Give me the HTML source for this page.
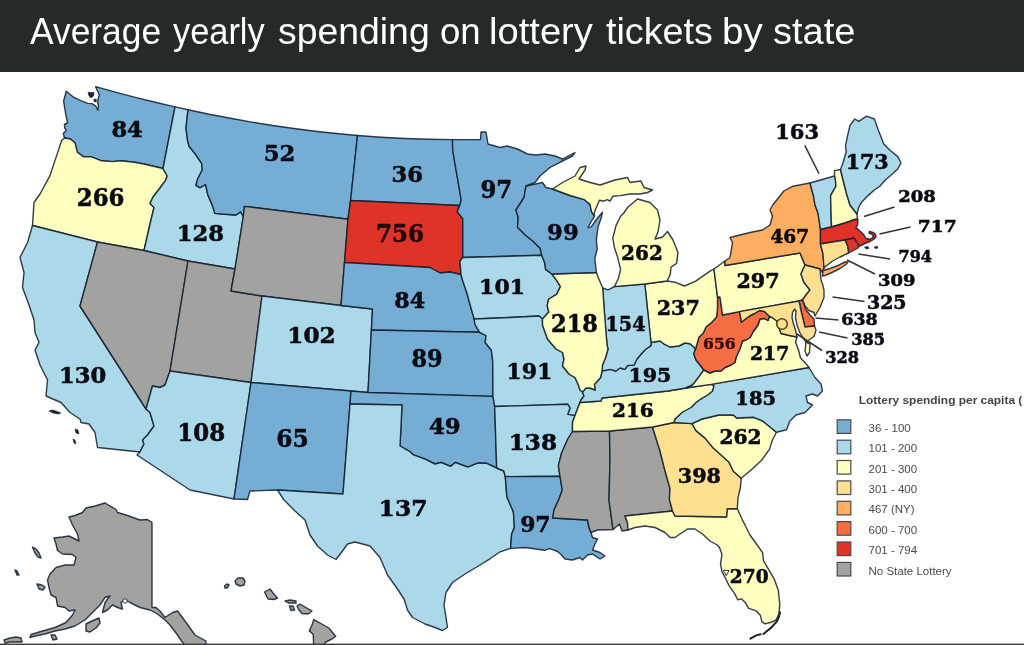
<!DOCTYPE html>
<html lang="en"><head><meta charset="utf-8"><title>Average yearly spending on lottery tickets by state</title>
<style>
html,body{margin:0;padding:0;background:#fff;}
body{width:1024px;height:645px;overflow:hidden;position:relative;font-family:"Liberation Sans",Arial,sans-serif;}
#hdr{position:absolute;left:0;top:0;width:1024px;height:72.4px;background:#24292a;}
#hdr h1{margin:0;position:absolute;left:0;top:11px;width:1024px;height:42px;font-size:37px;line-height:42px;font-weight:normal;color:#fff;white-space:nowrap;}
#hdr h1 span{position:absolute;top:0;display:inline-block;transform-origin:0 50%;}
#map{position:absolute;left:0;top:72px;width:1024px;height:573px;}
#map svg{display:block;}
</style></head><body>
<div id="hdr"><h1><span style="left:30.0px;transform:scaleX(0.956)">Average</span> <span style="left:173.2px;transform:scaleX(0.929)">yearly</span> <span style="left:278.4px;transform:scaleX(1.010)">spending</span> <span style="left:440.2px;transform:scaleX(0.987)">on</span> <span style="left:488.5px;transform:scaleX(1.031)">lottery</span> <span style="left:605.6px;transform:scaleX(1.019)">tickets</span> <span style="left:722.4px;transform:scaleX(1.042)">by</span> <span style="left:772.6px;transform:scaleX(1.026)">state</span></h1></div>
<div id="map">
<svg width="1024" height="573" viewBox="0 72 1024 573" role="img" aria-label="US map of lottery spending per capita by state">
<g stroke="#111d2b" stroke-width="1.4" stroke-opacity="0.86" stroke-linejoin="round">
<path id="WA" fill="#75add5" d="M66.3,91.3 73.0,96.8 80.8,100.7 87.8,103.4 92.0,103.6 95.6,105.8 98.0,110.5 98.4,105.8 97.6,101.9 98.4,98.0 99.5,94.8 97.6,91.0 95.6,86.6 115.4,92.1 135.3,97.4 155.2,102.3 175.0,106.9 163.0,168.5 143.8,164.0 134.4,162.3 120.3,160.8 112.5,161.6 101.6,160.8 91.4,156.9 83.6,156.9 77.3,152.2 75.0,142.8 70.3,139.0 64.5,138.0 63.3,133.4 66.4,130.3 64.8,128.4 64.4,124.5 67.5,123.0 65.5,112.8 63.6,101.0Z"/>
<path id="OR" fill="#ffffbf" d="M64.5,138.0 70.3,139.0 75.0,142.8 77.3,152.2 83.6,156.9 91.4,156.9 101.6,160.8 112.5,161.6 120.3,160.8 134.4,162.3 143.8,164.0 163.0,168.5 167.2,176.0 165.6,180.3 160.0,188.0 153.0,197.0 150.0,203.5 154.0,207.5 150.5,222.0 144.0,250.5 97.5,242.0 32.5,225.5 34.0,202.5 40.0,194.0 50.0,175.6 56.2,156.9 61.7,140.5Z"/>
<path id="ID" fill="#abd9e9" d="M175.0,106.9 188.0,109.8 186.0,128.0 187.5,140.0 189.0,146.2 195.3,154.0 201.6,163.4 202.3,169.7 197.7,179.0 196.0,185.3 200.0,187.7 205.5,184.5 207.8,194.7 212.5,205.6 214.8,213.4 225.0,214.2 236.0,215.0 240.6,211.9 243.3,216.5 235.0,269.0 188.0,261.0 144.0,250.5 150.5,222.0 154.0,207.5 150.0,203.5 153.0,197.0 160.0,188.0 165.6,180.3 167.2,176.0 163.0,168.5Z"/>
<path id="MT" fill="#75add5" d="M188.0,109.8 209.2,114.3 230.4,118.3 251.6,122.1 272.8,125.5 293.9,128.5 315.1,131.2 336.3,133.5 357.5,135.5 350.6,200.5 348.0,219.2 244.5,206.4 243.3,216.5 240.6,211.9 236.0,215.0 225.0,214.2 214.8,213.4 212.5,205.6 207.8,194.7 205.5,184.5 200.0,187.7 196.0,185.3 197.7,179.0 202.3,169.7 201.6,163.4 195.3,154.0 189.0,146.2 187.5,140.0 186.0,128.0Z"/>
<path id="CA" fill="#abd9e9" d="M32.5,225.5 97.5,242.0 80.0,306.0 146.0,409.0 150.0,412.5 154.0,426.0 147.5,435.0 142.5,440.0 144.0,444.0 140.0,452.0 97.5,447.5 95.0,432.5 89.0,424.0 81.0,422.5 80.0,419.0 70.0,412.5 61.0,402.5 46.0,396.0 47.5,380.0 40.0,365.0 35.0,350.0 39.0,342.5 35.0,332.5 34.0,320.0 29.0,305.0 22.5,287.5 24.0,272.5 20.0,257.5 27.5,242.5Z"/>
<path id="NV" fill="#a2a2a1" d="M97.5,242.0 144.0,250.5 188.0,261.0 170.0,371.0 165.0,385.0 160.0,387.5 152.5,386.0 146.0,409.0 80.0,306.0Z"/>
<path id="UT" fill="#a2a2a1" d="M188.0,261.0 235.0,269.0 231.0,291.0 262.0,296.0 251.0,382.5 170.0,371.0Z"/>
<path id="WY" fill="#a2a2a1" d="M243.3,216.5 244.5,206.4 348.0,219.2 344.5,262.5 341.0,305.5 262.0,296.0 231.0,291.0 235.0,269.0Z"/>
<path id="AZ" fill="#abd9e9" d="M170.0,371.0 251.0,382.5 234.0,499.0 190.0,490.0 137.0,455.0 140.0,452.0 144.0,444.0 142.5,440.0 147.5,435.0 154.0,426.0 150.0,412.5 146.0,409.0 152.5,386.0 160.0,387.5 165.0,385.0Z"/>
<path id="CO" fill="#abd9e9" d="M262.0,296.0 341.0,305.5 372.5,309.0 371.4,330.0 368.0,392.5 351.0,391.0 251.0,382.5Z"/>
<path id="NM" fill="#75add5" d="M251.0,382.5 351.0,391.0 350.0,404.0 343.0,494.0 277.5,490.0 250.0,491.0 247.5,499.5 234.0,499.0Z"/>
<path id="ND" fill="#75add5" d="M357.5,135.5 381.2,137.2 405.0,138.5 428.8,139.3 452.5,139.6 452.7,150.0 455.0,164.0 458.0,181.0 461.2,200.0 459.7,205.5 350.6,200.5Z"/>
<path id="SD" fill="#e03328" d="M350.6,200.5 459.7,205.5 457.3,211.7 462.8,218.8 462.8,257.5 460.0,261.0 461.0,274.5 450.0,272.0 440.0,273.0 430.0,267.5 344.5,262.5 348.0,219.2Z"/>
<path id="NE" fill="#75add5" d="M344.5,262.5 430.0,267.5 440.0,273.0 450.0,272.0 461.0,274.5 462.5,280.0 467.2,294.0 471.0,308.0 474.2,319.0 475.0,324.5 479.7,332.3 371.4,330.0 372.5,309.0 341.0,305.5Z"/>
<path id="KS" fill="#75add5" d="M371.4,330.0 479.7,332.3 486.0,335.5 485.2,342.5 491.4,350.3 492.7,361.2 493.0,396.4 368.0,392.5Z"/>
<path id="OK" fill="#75add5" d="M351.0,391.0 368.0,392.5 493.0,396.4 494.7,406.5 496.7,468.0 486.6,463.3 477.2,463.3 467.8,467.2 455.3,462.5 450.6,466.4 441.2,462.5 435.0,464.0 425.6,459.4 413.0,454.7 410.0,451.6 400.0,446.0 402.0,405.0 350.0,404.0Z"/>
<path id="TX" fill="#abd9e9" d="M350.0,404.0 402.0,405.0 400.0,446.0 410.0,451.6 413.0,454.7 425.6,459.4 435.0,464.0 441.2,462.5 450.6,466.4 455.3,462.5 467.8,467.2 477.2,463.3 486.6,463.3 496.7,468.0 503.8,471.0 505.3,476.6 506.9,496.9 513.4,511.9 514.4,526.9 511.6,534.4 510.6,548.4 499.4,552.2 490.0,558.8 480.0,565.0 465.0,574.0 452.5,582.5 446.0,592.5 444.0,605.0 446.0,617.5 447.5,627.5 442.5,630.5 435.0,627.5 425.0,624.0 412.5,617.5 407.5,610.0 404.0,599.0 397.5,589.0 387.5,575.0 380.0,557.5 370.0,546.0 355.0,542.0 347.5,544.0 342.5,551.0 336.0,559.5 327.5,555.0 317.5,546.0 310.0,535.0 305.0,520.0 295.0,511.0 284.0,500.0 277.5,490.0 343.0,494.0Z"/>
<path id="MN" fill="#75add5" d="M452.5,139.6 480.5,139.5 481.0,132.0 486.0,132.0 488.0,144.0 500.0,147.5 507.5,146.0 517.5,149.0 527.5,154.0 536.0,155.0 545.0,154.0 555.0,156.0 562.5,159.0 575.0,152.5 572.5,156.0 562.5,161.0 550.0,167.5 540.0,176.0 535.0,182.5 526.0,186.0 524.0,197.5 516.0,210.0 518.3,217.8 517.5,227.2 525.3,235.0 533.0,241.2 540.2,248.3 541.7,255.3 462.8,257.5 462.8,218.8 457.3,211.7 459.7,205.5 461.2,200.0 458.0,181.0 455.0,164.0 452.7,150.0Z"/>
<path id="IA" fill="#abd9e9" d="M462.8,257.5 541.7,255.3 544.8,263.0 545.6,269.4 551.9,274.0 556.6,280.3 560.5,286.6 556.6,294.4 548.8,299.0 547.2,305.3 548.8,312.0 542.5,319.0 539.0,316.0 510.0,317.5 474.2,319.0 471.0,308.0 467.2,294.0 462.5,280.0 461.0,274.5 460.0,261.0Z"/>
<path id="MO" fill="#abd9e9" d="M474.2,319.0 510.0,317.5 539.0,316.0 542.5,319.0 542.5,325.0 547.5,339.0 556.0,349.0 562.5,352.5 564.0,359.0 562.5,366.0 569.0,374.0 575.0,377.5 578.0,384.0 580.0,390.0 582.5,392.0 584.0,396.0 581.0,400.0 580.0,402.5 577.5,409.0 575.0,415.6 567.7,414.4 570.0,408.0 567.7,404.2 494.7,406.5 493.0,396.4 492.7,361.2 491.4,350.3 485.2,342.5 486.0,335.5 479.7,332.3 475.0,324.5Z"/>
<path id="AR" fill="#abd9e9" d="M494.7,406.5 567.7,404.2 570.0,408.0 567.7,414.4 575.0,415.6 572.5,422.5 572.5,431.5 567.8,439.0 561.6,453.0 558.4,465.6 560.0,476.3 505.3,476.6 503.8,471.0 496.7,468.0Z"/>
<path id="LA" fill="#75add5" d="M505.3,476.6 560.0,476.3 562.3,490.0 559.0,499.0 554.0,510.0 552.8,518.0 587.5,520.0 589.0,527.5 591.0,532.5 592.5,537.5 597.5,539.0 595.0,544.0 592.5,550.0 600.0,552.5 605.0,556.0 600.0,559.0 592.5,554.0 587.5,555.0 582.5,560.0 580.0,557.5 572.5,560.0 565.0,559.0 561.0,554.5 557.5,551.5 550.0,548.6 544.4,550.3 525.6,547.5 510.6,548.4 511.6,534.4 514.4,526.9 513.4,511.9 506.9,496.9Z"/>
<path id="MS" fill="#a2a2a1" d="M572.5,431.5 609.5,431.0 610.0,460.0 609.0,500.0 613.0,529.5 597.5,530.0 591.0,532.5 589.0,527.5 587.5,520.0 552.8,518.0 554.0,510.0 559.0,499.0 562.3,490.0 560.0,476.3 558.4,465.6 561.6,453.0 567.8,439.0Z"/>
<path id="AL" fill="#a2a2a1" d="M609.5,431.0 652.5,427.0 660.0,451.0 664.7,469.7 670.0,488.4 669.4,499.4 672.5,511.0 625.0,516.0 627.5,522.5 628.0,530.0 622.0,531.0 619.5,524.0 613.0,529.5 609.0,500.0 610.0,460.0Z"/>
<path id="FL" fill="#ffffbf" d="M672.5,511.0 675.0,516.0 726.5,517.0 727.2,508.8 737.3,508.8 742.5,520.0 750.0,535.0 757.2,545.0 762.7,552.8 763.4,560.6 768.0,568.4 774.4,579.4 778.3,590.3 779.8,604.4 779.0,613.8 776.0,620.0 771.2,622.3 765.0,623.9 761.9,621.6 760.3,615.3 755.6,610.6 748.6,608.3 745.5,602.8 741.6,598.9 737.7,599.7 734.5,593.4 729.0,585.6 725.2,577.8 722.0,571.6 720.5,563.8 722.0,554.4 719.7,548.0 717.3,545.0 710.0,541.0 702.5,534.0 695.0,529.0 687.5,529.0 680.0,534.0 675.0,537.5 670.0,537.5 665.0,532.5 655.0,527.5 645.0,526.0 635.0,527.5 628.0,530.0 627.5,522.5 625.0,516.0Z"/>
<path id="GA" fill="#fee090" d="M652.5,427.0 674.0,422.5 692.0,423.6 696.0,430.6 705.3,438.4 713.0,447.8 721.7,455.6 728.8,461.9 733.4,471.2 741.2,478.3 740.5,487.0 738.0,497.8 737.3,508.8 727.2,508.8 726.5,517.0 675.0,516.0 672.5,511.0 669.4,499.4 670.0,488.4 664.7,469.7 660.0,451.0Z"/>
<path id="SC" fill="#ffffbf" d="M692.0,423.6 702.0,419.0 719.0,415.0 733.4,415.0 736.6,418.0 753.8,417.3 763.0,421.2 776.4,432.2 772.5,440.0 769.4,449.4 761.6,460.3 752.2,469.0 741.2,478.3 733.4,471.2 728.8,461.9 721.7,455.6 713.0,447.8 705.3,438.4 696.0,430.6Z"/>
<path id="NC" fill="#abd9e9" d="M711.0,384.4 809.0,367.5 815.0,377.5 821.0,384.0 822.5,391.0 817.5,396.0 812.5,394.0 806.0,396.0 807.5,402.5 812.5,405.0 805.0,412.5 796.0,415.0 789.7,421.2 786.6,429.8 776.4,432.2 763.0,421.2 753.8,417.3 736.6,418.0 733.4,415.0 719.0,415.0 702.0,419.0 692.0,423.6 674.0,422.5 675.0,419.0 682.5,412.0 691.0,407.5 696.0,402.5 701.0,398.8 707.5,395.0 712.5,391.0 713.8,386.0Z"/>
<path id="TN" fill="#ffffbf" d="M580.0,402.5 601.0,401.0 602.0,398.0 668.0,391.0 686.0,388.0 711.0,384.4 713.8,386.0 712.5,391.0 707.5,395.0 701.0,398.8 696.0,402.5 691.0,407.5 682.5,412.0 675.0,419.0 674.0,422.5 652.5,427.0 609.5,431.0 572.5,431.5 572.5,422.5 575.0,415.6 577.5,409.0Z"/>
<path id="KY" fill="#abd9e9" d="M582.5,392.0 586.0,388.0 590.0,388.0 595.0,390.0 594.4,384.4 597.5,381.0 600.6,377.5 602.0,371.0 610.0,369.4 616.0,371.0 620.0,368.0 625.0,369.4 627.5,365.6 634.0,365.0 637.0,359.0 642.5,352.5 646.0,349.0 651.0,345.6 651.0,342.5 660.0,341.0 663.8,343.8 670.0,347.0 678.8,346.0 685.0,343.0 690.0,343.8 695.6,348.8 693.8,353.8 696.0,360.0 700.0,365.0 703.8,370.0 697.5,378.8 692.5,385.0 686.0,388.0 668.0,391.0 602.0,398.0 601.0,401.0 580.0,402.5 581.0,400.0 584.0,396.0Z"/>
<path id="VA" fill="#ffffbf" d="M686.0,388.0 692.5,385.0 697.5,378.8 703.8,370.0 710.0,373.0 715.0,371.0 721.0,371.0 725.0,367.5 731.0,365.0 735.0,362.5 736.0,357.5 740.0,348.8 742.5,341.0 746.0,340.0 750.0,337.5 753.0,332.0 758.0,325.0 760.0,319.0 764.5,318.5 768.0,320.5 769.5,316.5 772.0,317.5 777.0,321.0 779.5,329.0 781.0,333.5 789.5,335.5 797.0,337.0 795.5,342.0 798.5,350.0 800.5,358.0 805.0,362.5 809.0,367.5 711.0,384.4ZM806.0,342.0 810.0,344.0 809.5,352.5 807.0,356.0 805.0,351.0Z"/>
<path id="WV" fill="#f46d43" d="M717.5,297.0 720.0,297.0 722.5,315.0 739.5,311.6 741.5,322.0 749.5,316.0 754.5,313.5 759.5,310.5 764.5,311.5 769.5,316.5 768.0,320.5 764.5,318.5 760.0,319.0 758.0,325.0 753.0,332.0 750.0,337.5 746.0,340.0 742.5,341.0 740.0,348.8 736.0,357.5 735.0,362.5 731.0,365.0 725.0,367.5 721.0,371.0 715.0,371.0 710.0,373.0 703.8,370.0 700.0,365.0 696.0,360.0 693.8,353.8 695.6,348.8 697.0,344.0 699.0,337.0 703.0,333.5 706.0,327.0 712.0,322.0 716.5,317.0 717.5,308.5Z"/>
<path id="OH" fill="#ffffbf" d="M644.8,284.0 667.2,281.0 675.0,282.2 684.4,286.0 695.3,281.4 710.0,271.2 714.0,269.0 717.5,297.0 717.5,308.5 716.5,317.0 712.0,322.0 706.0,327.0 703.0,333.5 699.0,337.0 697.0,344.0 695.6,348.8 690.0,343.8 685.0,343.0 678.8,346.0 670.0,347.0 663.8,343.8 660.0,341.0 651.0,342.5Z"/>
<path id="IN" fill="#abd9e9" d="M602.7,288.0 608.0,289.9 614.4,286.6 644.8,284.0 651.0,342.5 651.0,345.6 646.0,349.0 642.5,352.5 637.0,359.0 634.0,365.0 627.5,365.6 625.0,369.4 620.0,368.0 616.0,371.0 610.0,369.4 602.0,371.0 602.5,365.0 605.6,357.5 608.0,349.0 607.0,345.0 604.2,310.0Z"/>
<path id="IL" fill="#ffffbf" d="M551.9,274.0 596.4,272.5 598.8,278.8 602.7,288.0 604.2,310.0 607.0,345.0 608.0,349.0 605.6,357.5 602.5,365.0 602.0,371.0 600.6,377.5 597.5,381.0 594.4,384.4 595.0,390.0 590.0,388.0 586.0,388.0 582.5,392.0 580.0,390.0 578.0,384.0 575.0,377.5 569.0,374.0 562.5,366.0 564.0,359.0 562.5,352.5 556.0,349.0 547.5,339.0 542.5,325.0 542.5,319.0 548.8,312.0 547.2,305.3 548.8,299.0 556.6,294.4 560.5,286.6 556.6,280.3Z"/>
<path id="WI" fill="#75add5" d="M526.0,186.0 542.5,182.5 546.0,187.5 552.5,189.0 570.0,195.5 584.4,199.7 590.0,204.4 591.6,211.9 593.8,215.0 594.7,215.8 591.0,222.0 588.0,227.5 591.2,226.9 595.0,221.5 598.6,216.8 602.5,212.2 601.2,218.0 598.0,226.9 596.4,239.7 597.2,249.0 594.8,258.4 596.4,272.5 551.9,274.0 545.6,269.4 544.8,263.0 541.7,255.3 540.2,248.3 533.0,241.2 525.3,235.0 517.5,227.2 518.3,217.8 516.0,210.0 524.0,197.5Z"/>
<path id="MI" fill="#ffffbf" d="M552.5,189.0 562.5,182.5 575.0,176.0 580.0,167.5 586.0,166.0 585.0,170.0 579.0,179.0 590.0,182.5 600.0,185.0 615.0,180.0 627.5,177.5 630.0,182.5 641.0,181.0 644.0,187.5 652.5,190.0 647.5,192.5 640.0,194.0 630.0,194.0 620.0,195.6 613.0,196.2 610.0,201.2 607.5,199.7 603.8,201.2 599.4,200.3 595.0,210.6 593.8,215.0 591.6,211.9 590.0,204.4 584.4,199.7 570.0,195.5ZM637.5,199.0 650.0,202.5 657.5,210.0 660.0,220.0 658.0,232.0 655.0,239.0 662.5,237.0 667.5,231.5 673.0,240.0 678.0,252.5 676.6,263.4 671.0,267.3 670.3,274.4 667.2,281.0 644.8,284.0 614.4,286.6 618.3,278.8 620.6,269.4 617.5,256.9 614.4,247.5 612.8,238.0 616.0,225.6 620.6,216.2 623.8,213.0 627.5,207.5Z"/>
<path id="PA" fill="#ffffbf" d="M714.0,269.0 725.0,261.0 725.0,265.5 800.0,253.0 805.0,265.0 801.0,274.0 804.0,282.5 810.0,290.0 806.0,295.0 802.5,300.0 799.0,301.0 739.5,311.6 722.5,315.0 720.0,297.0 717.5,297.0Z"/>
<path id="NY" fill="#fdae61" d="M725.0,261.0 730.0,257.5 732.5,242.5 730.0,237.5 750.0,232.5 762.5,230.0 770.0,225.0 772.5,216.0 770.0,210.0 772.8,205.0 783.8,191.0 793.0,186.2 810.0,183.0 813.4,195.6 815.0,205.0 818.0,213.0 820.5,229.5 820.5,244.0 823.0,254.0 824.0,268.0 822.0,272.0 820.0,269.0 805.0,265.0 800.0,253.0 725.0,265.5ZM823.0,270.5 830.0,268.5 838.0,265.5 845.0,262.0 848.0,262.0 846.0,264.5 840.0,268.5 832.0,272.5 825.0,275.5 822.5,276.0Z"/>
<path id="VT" fill="#abd9e9" d="M810.0,183.0 834.5,176.0 835.3,178.4 836.0,186.2 830.6,195.6 831.0,210.0 831.5,227.0 820.5,229.5 818.0,213.0 815.0,205.0 813.4,195.6Z"/>
<path id="NH" fill="#ffffbf" d="M834.5,176.0 834.5,170.6 840.5,169.5 846.2,192.5 850.0,205.0 857.0,214.0 857.5,219.0 855.0,219.5 845.0,223.0 831.5,227.0 831.0,210.0 830.6,195.6 836.0,186.2 835.3,178.4Z"/>
<path id="ME" fill="#abd9e9" d="M840.5,169.5 843.0,162.8 846.2,151.9 845.5,145.6 847.8,134.7 850.0,125.3 854.8,119.0 858.8,121.4 866.6,116.2 874.4,119.0 878.3,130.0 883.8,144.0 890.0,150.3 897.8,156.6 901.0,162.8 897.8,169.0 890.0,176.0 885.3,180.0 879.8,186.2 874.4,190.0 868.0,195.6 861.9,201.9 858.8,207.0 857.0,214.0 850.0,205.0 846.2,192.5Z"/>
<path id="MA" fill="#e03328" d="M820.5,229.5 831.5,227.0 845.0,223.0 855.0,219.5 857.5,219.0 858.0,220.5 857.5,225.0 856.0,227.5 860.0,231.0 864.0,235.0 866.0,238.5 870.0,239.2 872.3,238.0 873.2,236.2 872.0,234.3 869.0,233.2 869.5,231.3 873.0,232.3 875.5,234.4 876.0,237.0 873.5,239.5 870.0,241.5 866.0,243.0 864.0,244.0 861.0,245.5 859.0,246.0 854.0,238.0 845.0,240.0 820.5,244.0Z"/>
<path id="RI" fill="#e03328" d="M845.0,240.0 854.0,238.0 859.0,246.0 858.0,248.0 848.5,253.0 847.5,246.0Z"/>
<path id="CT" fill="#fee090" d="M820.5,244.0 845.0,240.0 847.5,246.0 848.5,253.0 840.0,257.0 832.5,261.0 826.0,266.0 824.0,268.0 823.0,254.0Z"/>
<path id="NJ" fill="#fee090" d="M805.0,265.0 820.0,269.0 821.0,280.0 822.5,284.0 824.0,290.0 824.0,297.5 820.0,307.5 817.0,312.5 815.0,316.0 814.0,312.5 809.0,310.5 805.0,306.0 802.5,300.0 806.0,295.0 810.0,290.0 804.0,282.5 801.0,274.0Z"/>
<path id="DE" fill="#f46d43" d="M799.0,301.0 802.5,300.0 805.5,309.0 810.0,315.0 814.0,319.0 814.5,326.0 805.0,327.0 802.0,315.0Z"/>
<path id="MD" fill="#fee090" d="M739.5,311.6 799.0,301.0 802.0,315.0 805.0,327.0 814.5,326.0 816.0,330.0 814.0,336.5 806.0,342.0 802.5,337.0 799.5,332.0 797.0,325.0 795.5,317.5 796.0,311.0 794.5,309.0 792.5,312.5 792.0,317.5 793.5,324.0 795.5,330.0 797.0,337.0 789.5,335.5 781.0,333.5 779.5,329.0 777.0,321.0 772.0,317.5 769.5,316.5 764.5,311.5 759.5,310.5 754.5,313.5 749.5,316.0 741.5,322.0Z"/>
<path id="AK" fill="#a2a2a1" d="M105.0,503.0 116.0,509.5 117.5,512.5 127.5,515.5 140.0,520.0 147.5,519.5 152.0,522.5 152.0,607.5 156.0,607.5 160.0,611.0 165.0,617.5 172.5,612.5 177.5,611.0 185.0,621.0 195.0,635.0 206.0,641.0 206.0,646.0 185.0,646.0 177.5,635.0 170.0,625.0 165.0,620.0 157.5,614.0 150.0,610.0 140.0,607.5 130.0,602.5 125.0,599.5 121.0,602.5 122.5,609.0 117.5,607.5 112.5,605.0 107.5,610.0 102.5,612.5 105.0,602.5 110.0,596.0 105.0,597.5 100.0,605.0 92.5,612.5 85.0,620.0 75.0,626.0 65.0,629.0 55.0,631.0 45.0,634.0 35.0,636.0 30.0,637.5 31.0,634.5 42.5,631.0 55.0,627.5 66.0,622.5 72.5,615.0 75.0,610.0 69.0,611.0 65.0,607.5 57.5,606.0 56.0,597.5 51.0,595.0 49.0,587.5 47.5,580.0 50.0,574.0 56.0,567.5 65.0,565.0 74.0,565.0 76.0,557.5 72.5,554.5 62.5,554.0 57.5,550.5 56.0,544.0 54.0,538.0 62.5,537.0 69.0,536.0 75.0,539.0 79.0,541.0 77.5,534.0 72.5,525.0 69.0,517.0 75.0,515.5 82.5,512.5 86.0,508.0 95.0,506.0ZM32.5,547.0 36.0,549.0 39.0,553.0 41.0,558.0 38.0,557.0 35.0,553.0ZM15.0,570.0 17.0,571.0 19.0,575.0 17.0,575.0ZM37.0,584.0 42.0,585.0 45.0,587.0 43.0,590.0 39.0,589.0ZM86.0,624.0 92.0,621.0 99.0,618.0 100.0,623.0 96.0,628.0 90.0,632.0 86.0,631.0ZM4.0,640.0 10.0,638.0 16.0,637.0 21.0,638.0 22.0,642.0 16.0,642.0 10.0,642.0 5.0,643.0ZM51.0,635.0 55.0,635.0 57.0,639.0 53.0,640.0Z"/>
<path id="HI" fill="#a2a2a1" d="M235.0,581.0 238.0,578.0 243.0,578.0 245.0,581.0 244.0,585.0 240.0,586.0 236.0,584.0ZM224.5,586.0 227.0,584.0 229.0,585.0 227.0,588.0 225.0,588.0ZM264.5,592.0 270.0,589.0 273.0,593.0 277.5,598.0 274.0,599.5 268.0,599.0ZM285.0,601.0 290.0,600.0 296.0,601.0 296.0,603.0 289.0,603.0ZM289.5,606.0 293.0,606.0 294.5,610.0 291.0,610.5ZM297.0,606.0 300.0,604.0 305.0,607.0 312.0,611.0 308.0,614.0 302.0,613.5 299.0,610.0ZM313.7,619.6 321.0,623.5 328.8,628.0 335.7,636.3 331.8,639.2 325.9,642.0 322.0,646.5 313.7,646.5 313.2,634.3 309.3,630.9 312.2,624.5Z"/>
<circle cx="782" cy="324" r="5.3" fill="#fee090" stroke="#4d4a1c" stroke-width="1.6" stroke-opacity="1"/>
<circle cx="125" cy="601" r="2.2" fill="#fff" stroke-width="1"/>
</g>
<g fill="#1a2230" stroke="#1a2230" stroke-width="0.6">
<path d="M49.0,411.0 52.0,410.0 56.0,411.0 61.0,413.0 58.0,414.0 53.0,413.0Z"/>
<path d="M75.0,429.0 78.0,430.0 79.0,434.0 76.0,433.0Z"/>
<path d="M73.0,439.0 75.0,440.0 76.0,444.0 74.0,443.0Z"/>
<path d="M88.0,92.3 94.0,92.5 93.5,96.0 91.0,98.0 89.0,96.0Z"/>
<path d="M93.8,99.2 96.3,99.2 96.3,101.8 94.2,101.8Z"/>
<path d="M864.5,247.0 868.0,246.5 869.0,248.5 866.0,249.0Z"/>
<path d="M874.0,247.5 877.0,246.0 878.0,248.0 875.5,248.5Z"/>
</g>
<path d="M750.5,638.6 L755.6,635.6 L760.6,634.3 M763.4,634 Q771.5,628.2 776.7,621.6 Q779.6,617 780,612.2" fill="none" stroke="#1d2226" stroke-width="2" stroke-linecap="round"/>
<path d="M723.4,570.2 L729,570.6 L726.2,575.6 Z" fill="#fff" stroke="#111d2b" stroke-width="0.9"/>
<g stroke="#333" stroke-width="1.5" fill="none">
<path d="M804.8,145.3 L819,173.75"/>
<path d="M894.5,207 L864,216.5"/>
<path d="M910.5,227 L879.5,234"/>
<path d="M890,259 L858.5,254"/>
<path d="M875,274 L847,260"/>
<path d="M864.5,301.5 L832.5,297"/>
<path d="M838.5,320 L815.5,318"/>
<path d="M847.5,338 L819,332"/>
<path d="M822,350.5 L797,334"/>
</g>
<g font-family="'DejaVu Serif', 'Liberation Serif', serif" font-weight="bold" fill="#0a0a12" stroke="#0a0a12" stroke-width="0.55" stroke-linejoin="round" text-anchor="middle">
<text x="127.08" y="137.30" font-size="22.30" textLength="31.32" lengthAdjust="spacingAndGlyphs">84</text>
<text x="100.68" y="206.40" font-size="23.39" textLength="47.66" lengthAdjust="spacingAndGlyphs">266</text>
<text x="200.45" y="240.60" font-size="22.02" textLength="47.26" lengthAdjust="spacingAndGlyphs">128</text>
<text x="279.40" y="161.10" font-size="22.30" textLength="31.47" lengthAdjust="spacingAndGlyphs">52</text>
<text x="407.25" y="181.55" font-size="22.99" textLength="31.56" lengthAdjust="spacingAndGlyphs">36</text>
<text x="400.05" y="242.35" font-size="24.08" textLength="47.94" lengthAdjust="spacingAndGlyphs" fill="#1e0707" stroke="#1e0707">756</text>
<text x="496.27" y="198.00" font-size="23.39" textLength="31.66" lengthAdjust="spacingAndGlyphs">97</text>
<text x="562.92" y="240.00" font-size="22.30" textLength="31.58" lengthAdjust="spacingAndGlyphs">99</text>
<text x="82.55" y="382.90" font-size="22.30" textLength="47.24" lengthAdjust="spacingAndGlyphs">130</text>
<text x="201.25" y="441.10" font-size="23.39" textLength="47.78" lengthAdjust="spacingAndGlyphs">108</text>
<text x="311.50" y="343.35" font-size="23.05" textLength="48.40" lengthAdjust="spacingAndGlyphs">102</text>
<text x="409.68" y="308.45" font-size="22.99" textLength="31.02" lengthAdjust="spacingAndGlyphs">84</text>
<text x="426.92" y="367.00" font-size="23.39" textLength="31.08" lengthAdjust="spacingAndGlyphs">89</text>
<text x="292.55" y="447.30" font-size="23.39" textLength="32.43" lengthAdjust="spacingAndGlyphs">65</text>
<text x="444.85" y="433.55" font-size="22.99" textLength="31.81" lengthAdjust="spacingAndGlyphs">49</text>
<text x="403.10" y="516.10" font-size="23.12" textLength="49.01" lengthAdjust="spacingAndGlyphs">137</text>
<text x="502.05" y="293.90" font-size="21.21" textLength="45.82" lengthAdjust="spacingAndGlyphs">101</text>
<text x="529.35" y="378.70" font-size="22.30" textLength="46.12" lengthAdjust="spacingAndGlyphs">191</text>
<text x="532.83" y="449.85" font-size="22.71" textLength="48.31" lengthAdjust="spacingAndGlyphs">138</text>
<text x="535.38" y="532.30" font-size="22.86" textLength="30.45" lengthAdjust="spacingAndGlyphs">97</text>
<text x="574.48" y="331.55" font-size="24.42" textLength="46.86" lengthAdjust="spacingAndGlyphs">218</text>
<text x="625.50" y="330.90" font-size="21.21" textLength="40.18" lengthAdjust="spacingAndGlyphs">154</text>
<text x="641.95" y="259.80" font-size="20.12" textLength="41.67" lengthAdjust="spacingAndGlyphs">262</text>
<text x="678.23" y="315.30" font-size="20.12" textLength="42.99" lengthAdjust="spacingAndGlyphs">237</text>
<text x="649.92" y="382.00" font-size="18.61" textLength="42.96" lengthAdjust="spacingAndGlyphs">195</text>
<text x="632.88" y="416.50" font-size="17.92" textLength="41.83" lengthAdjust="spacingAndGlyphs">216</text>
<text x="789.77" y="243.00" font-size="19.08" textLength="38.64" lengthAdjust="spacingAndGlyphs">467</text>
<text x="758.00" y="288.45" font-size="21.21" textLength="43.16" lengthAdjust="spacingAndGlyphs">297</text>
<text x="719.40" y="348.65" font-size="15.46" textLength="32.58" lengthAdjust="spacingAndGlyphs" fill="#3a0a10" stroke="#3a0a10" stroke-width="0.35">656</text>
<text x="769.62" y="360.23" font-size="19.05" textLength="39.40" lengthAdjust="spacingAndGlyphs">217</text>
<text x="755.75" y="405.10" font-size="18.74" textLength="40.79" lengthAdjust="spacingAndGlyphs">185</text>
<text x="740.55" y="444.15" font-size="19.70" textLength="42.08" lengthAdjust="spacingAndGlyphs">262</text>
<text x="699.38" y="483.20" font-size="21.21" textLength="43.25" lengthAdjust="spacingAndGlyphs">398</text>
<text x="749.25" y="582.75" font-size="18.61" textLength="38.76" lengthAdjust="spacingAndGlyphs">270</text>
<text x="797.08" y="139.20" font-size="20.12" textLength="43.84" lengthAdjust="spacingAndGlyphs">163</text>
<text x="867.20" y="169.35" font-size="20.81" textLength="43.07" lengthAdjust="spacingAndGlyphs">173</text>
<text x="917.00" y="201.65" font-size="16.97" textLength="37.58" lengthAdjust="spacingAndGlyphs">208</text>
<text x="937.33" y="231.78" font-size="17.27" textLength="38.90" lengthAdjust="spacingAndGlyphs">717</text>
<text x="915.23" y="261.70" font-size="16.01" textLength="33.30" lengthAdjust="spacingAndGlyphs">794</text>
<text x="896.67" y="286.10" font-size="16.28" textLength="37.45" lengthAdjust="spacingAndGlyphs">309</text>
<text x="886.75" y="308.85" font-size="17.58" textLength="39.62" lengthAdjust="spacingAndGlyphs">325</text>
<text x="859.50" y="325.05" font-size="16.16" textLength="36.57" lengthAdjust="spacingAndGlyphs">638</text>
<text x="868.12" y="344.65" font-size="16.16" textLength="33.85" lengthAdjust="spacingAndGlyphs">385</text>
<text x="842.17" y="362.65" font-size="16.16" textLength="33.91" lengthAdjust="spacingAndGlyphs">328</text>
</g>
<g font-family="'Liberation Sans', Arial, sans-serif" fill="#4a4a4a">
<text x="858.8" y="404.1" font-size="11" font-weight="bold" fill="#444" textLength="163.5" lengthAdjust="spacingAndGlyphs">Lottery spending per capita (</text>
<rect x="837.2" y="419.8" width="13.6" height="13.6" fill="#75add5" stroke="#4a4a4a" stroke-width="1.2"/>
<text x="868.5" y="431.9" font-size="11.5">36 - 100</text>
<rect x="837.2" y="440.2" width="13.6" height="13.6" fill="#abd9e9" stroke="#4a4a4a" stroke-width="1.2"/>
<text x="868.5" y="452.3" font-size="11.5">101 - 200</text>
<rect x="837.2" y="460.5" width="13.6" height="13.6" fill="#ffffbf" stroke="#4a4a4a" stroke-width="1.2"/>
<text x="868.5" y="472.6" font-size="11.5">201 - 300</text>
<rect x="837.2" y="480.9" width="13.6" height="13.6" fill="#fee090" stroke="#4a4a4a" stroke-width="1.2"/>
<text x="868.5" y="493.0" font-size="11.5">301 - 400</text>
<rect x="837.2" y="501.3" width="13.6" height="13.6" fill="#fdae61" stroke="#4a4a4a" stroke-width="1.2"/>
<text x="868.5" y="513.4" font-size="11.5">467 (NY)</text>
<rect x="837.2" y="521.6" width="13.6" height="13.6" fill="#f46d43" stroke="#4a4a4a" stroke-width="1.2"/>
<text x="868.5" y="533.8" font-size="11.5">600 - 700</text>
<rect x="837.2" y="542.0" width="13.6" height="13.6" fill="#e03328" stroke="#4a4a4a" stroke-width="1.2"/>
<text x="868.5" y="554.1" font-size="11.5">701 - 794</text>
<rect x="837.2" y="562.4" width="13.6" height="13.6" fill="#a2a2a1" stroke="#4a4a4a" stroke-width="1.2"/>
<text x="868.5" y="574.5" font-size="11.5">No State Lottery</text>
</g>
<rect x="0" y="643.6" width="1024" height="1.4" fill="#3a3a3a"/>
</svg>
</div>
</body></html>
